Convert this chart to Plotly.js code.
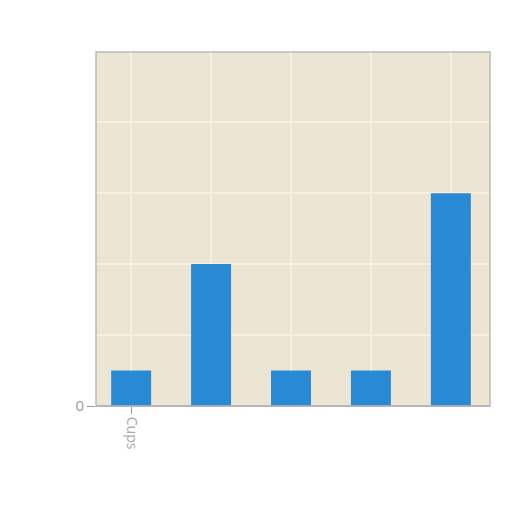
<!DOCTYPE html>
<html>
<head>
<meta charset="utf-8">
<script src="https://cdn.plot.ly/plotly-3.0.1.min.js"></script>
<style>
html, body { margin: 0; padding: 0; background: #fff; }
#myDiv { width: 512px; height: 512px; }
</style>
</head>
<body>
<div id="myDiv"></div>
<script>
// chart data
var positions = [0, 1, 2, 3, 4];
var tickLabels = ['Cups', '', '', '', ''];
var values = [0.5, 2, 0.5, 0.5, 3];
var yTicks = [0];
var yTickLabels = ['0'];

// only the labelled categories get a tick mark
var shownPos = positions.filter(function (p, i) { return tickLabels[i] !== ''; });
var shownText = tickLabels.filter(function (t) { return t !== ''; });

var trace1 = {
	x: positions,
	y: values,
	type: 'bar',
	width: 0.5,
	marker: {color: '#2a89d3'}
};

var grid = '#f7f0de';

var layout = {
	width: 512,
	height: 512,
	margin: {l: 96, r: 22, t: 52, b: 106},
	paper_bgcolor: '#ffffff',
	plot_bgcolor: '#ece5d3',
	showlegend: false,
	font: {family: 'Open Sans, sans-serif', color: '#a8a8a8', size: 14},
	xaxis: {
		range: [-0.44, 4.49],
		tickvals: shownPos,
		ticktext: shownText,
		tickangle: 90,
		ticks: 'outside',
		ticklen: 7,
		tickcolor: '#999999',
		showgrid: true,
		gridcolor: grid,
		gridwidth: 1.5,
		minor: {tick0: 0, dtick: 1, showgrid: true, gridcolor: grid, gridwidth: 1.5, ticks: ''},
		zeroline: false,
		showline: false,
		fixedrange: true
	},
	yaxis: {
		range: [0, 4.99],
		tickvals: yTicks,
		ticktext: yTickLabels,
		ticks: 'outside',
		ticklen: 8,
		tickcolor: '#999999',
		tickfont: {size: 15, color: '#999999'},
		showgrid: true,
		gridcolor: grid,
		gridwidth: 1.5,
		minor: {tick0: 0, dtick: 1, showgrid: true, gridcolor: grid, gridwidth: 1.5, ticks: ''},
		zeroline: true,
		zerolinecolor: '#aaaaaa',
		zerolinewidth: 1.5,
		showline: false,
		fixedrange: true
	},
	shapes: [{
		type: 'rect', xref: 'paper', yref: 'paper',
		x0: 0, x1: 1, y0: 0, y1: 1,
		line: {color: '#bbbbbb', width: 1.5}
	}],
	bargap: 0.5
};

Plotly.newPlot('myDiv', [trace1], layout, {displayModeBar: false, staticPlot: true});
</script>
</body>
</html>
